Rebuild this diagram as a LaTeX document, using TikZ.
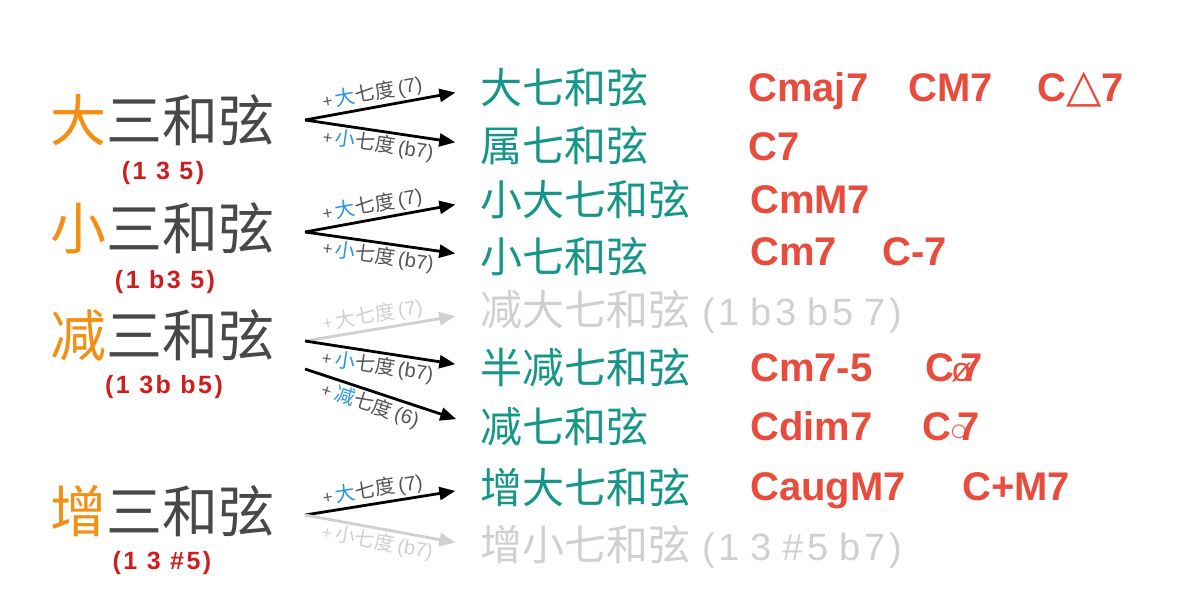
\documentclass[tikz,border=0pt]{standalone}
\usepackage{fontspec}
\setmainfont{Noto Sans CJK SC}
\newfontfamily\chordfont{Liberation Sans}
\newfontfamily\notefont{Liberation Sans}[LetterSpace=10]
\newfontfamily\dejavu{DejaVu Sans}
\usetikzlibrary{arrows.meta}
\definecolor{orng}{RGB}{243,143,18}
\definecolor{dgray}{RGB}{72,72,72}
\definecolor{cteal}{RGB}{22,150,136}
\definecolor{cred}{RGB}{232,76,61}
\definecolor{nred}{RGB}{205,30,30}
\definecolor{lgray}{RGB}{208,208,208}
\definecolor{lblue}{RGB}{40,150,220}
\definecolor{lblack}{RGB}{85,85,85}
\tikzset{
  tri/.style={anchor=west, inner sep=0pt, font=\fontsize{56}{60}\selectfont, text=dgray},
  notes/.style={inner sep=0pt, font=\notefont\bfseries\fontsize{25}{28}\selectfont, text=nred},
  chord/.style={anchor=west, inner sep=0pt, font=\fontsize{42}{48}\selectfont, text=cteal},
  ghost/.style={chord, text=lgray},
  sym/.style={anchor=base west, inner sep=0pt, font=\chordfont\bfseries\fontsize{40}{46}\selectfont, text=cred},
  arr/.style={line width=2.8pt, -{Triangle[length=16pt,width=13pt]}, shorten >=25pt},
  garr/.style={arr, draw=lgray},
  lab/.style={font=\fontsize{20}{22}\selectfont, text=lblack, sloped, inner sep=2pt},
  glab/.style={lab, text=lgray}
}
\newcommand{\bl}[1]{{\color{lblue}#1}}
\newcommand{\pl}{{\fontsize{17}{18}\selectfont +}\,}
\newcommand{\lt}[1]{{\chordfont\,(#1)}}
\newcommand{\gp}[1]{\hspace{12pt}{\notefont\fontsize{38}{40}\selectfont #1}}
\newcommand{\gs}{\hspace{11pt}}
\begin{document}
\begin{tikzpicture}[x=1pt,y=-1pt]
\useasboundingbox (0,0) rectangle (1195,597);
% triads
\node[tri] (maj) at (50,120) {{\color{orng}大}三和弦};
\node[notes] (majn) at (163,173) {(1 3 5)};
\node[tri] (min) at (50,228) {{\color{orng}小}三和弦};
\node[notes] (minn) at (165,282) {(1 b3 5)};
\node[tri] (dim) at (50,335) {{\color{orng}减}三和弦};
\node[notes] (dimn) at (164,387) {(1 3b b5)};
\node[tri] (aug) at (50,511) {{\color{orng}增}三和弦};
\node[notes] (augn) at (162,563) {(1 3 \#5)};
% sevenths
\node[chord] (c1) at (480,88) {大七和弦};
\node[chord] (c2) at (480,146) {属七和弦};
\node[chord] (c3) at (480,200) {小大七和弦};
\node[chord] (c4) at (480,257) {小七和弦};
\node[ghost] (c5) at (480,312) {减大七和弦\gp{(1\gs b3\gs b5\gs 7)}};
\node[chord] (c6) at (480,368) {半减七和弦};
\node[chord] (c7) at (480,427) {减七和弦};
\node[chord] (c8) at (480,487) {增大七和弦};
\node[ghost] (c9) at (480,547) {增小七和弦\gp{(1\gs 3\gs \#5\gs b7)}};
% symbols
\node[sym] (s1a) at (748,101) {Cmaj7};
\node[sym] (s1b) at (908,101) {CM7};
\node[sym] (s1c) at (1037,101) {C{\dejavu\mdseries\fontsize{46}{50}\selectfont △}7};
\node[sym] (s2) at (748,160) {C7};
\node[sym] (s3) at (750,213) {CmM7};
\node[sym] (s4a) at (750,265) {Cm7};
\node[sym] (s4b) at (882,265) {C-7};
\node[sym] (s6a) at (750,381) {Cm7-5};
\node[sym] (s6b) at (925,381) {C\kern-3pt\rlap{\mdseries\fontsize{34}{36}\selectfont ø}\kern9pt 7};
\node[sym] (s7a) at (750,440) {Cdim7};
\node[sym] (s7b) at (922,440) {C\rlap{\raisebox{4pt}{\dejavu\mdseries\fontsize{18}{20}\selectfont ○}}\kern6pt 7};
\node[sym] (s8a) at (750,500) {CaugM7};
\node[sym] (s8b) at (962,500) {C+M7};
% origins
\coordinate (o1) at (305,120);
\coordinate (o2) at (305,232);
\coordinate (o3a) at (305,341);
\coordinate (o3b) at (305,369);
\coordinate (o4) at (305,515);
% arrows
\draw[arr] (o1) -- node[lab, above, pos=0.4] {\pl\bl{大}七度\lt{7}} (c1.west);
\draw[arr] (o1) -- node[lab, below, pos=0.43] {\pl\bl{小}七度\lt{b7}} (c2.west);
\draw[arr] (o2) -- node[lab, above, pos=0.4] {\pl\bl{大}七度\lt{7}} (c3.west);
\draw[arr] (o2) -- node[lab, below, pos=0.43] {\pl\bl{小}七度\lt{b7}} (c4.west);
\draw[garr] (o3a) -- node[glab, above, pos=0.4] {\pl 大七度\lt{7}} (c5.west);
\draw[arr] (o3a) -- node[lab, below, pos=0.43] {\pl\bl{小}七度\lt{b7}} (c6.west);
\draw[arr] (o3b) -- node[lab, below, pos=0.4] {\pl\bl{减}七度\lt{6}} (c7.west);
\draw[arr] (o4) -- node[lab, above, pos=0.4] {\pl\bl{大}七度\lt{7}} (c8.west);
\draw[garr] (o4) -- node[glab, below, pos=0.43] {\pl 小七度\lt{b7}} (c9.west);
\end{tikzpicture}
\end{document}
